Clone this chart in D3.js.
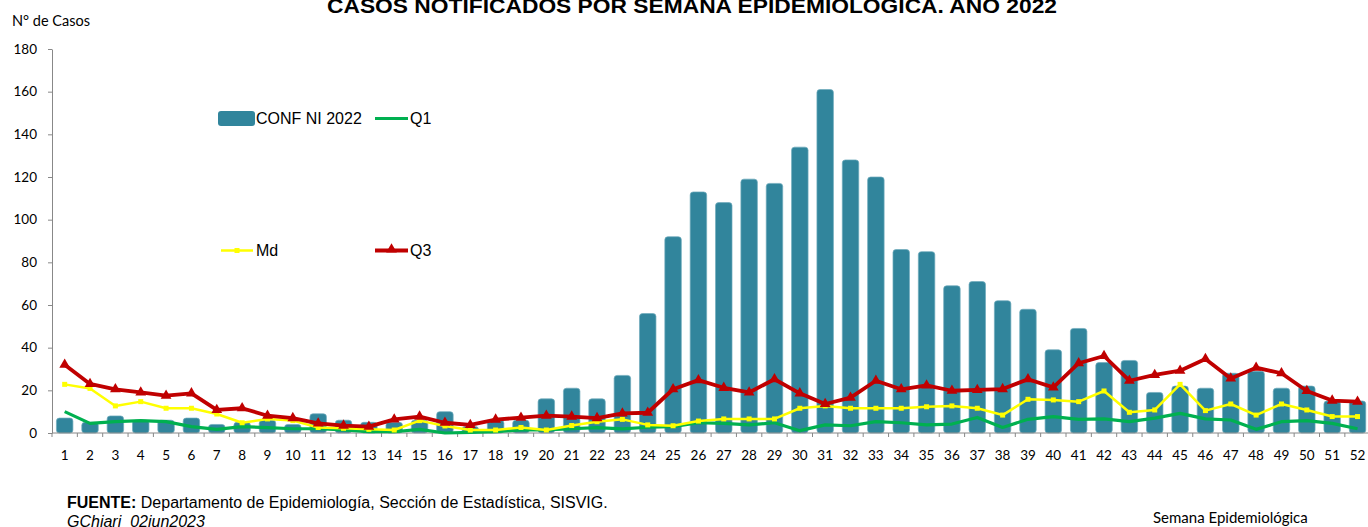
<!DOCTYPE html>
<html>
<head>
<meta charset="utf-8">
<script src="https://cdn.jsdelivr.net/npm/d3@7"></script>
<style>
  body { margin: 0; background: #fff; }
  svg { display: block; }
</style>
</head>
<body>
<div id="chart"></div>
<script>
// casos notificados por semana epidemiologica, 2022 vs canal endemico (Q1, Md, Q3)

var weeks = [1,2,3,4,5,6,7,8,9,10,11,12,13,14,15,16,17,18,19,20,21,22,23,24,25,26,
             27,28,29,30,31,32,33,34,35,36,37,38,39,40,41,42,43,44,45,46,47,48,49,50,51,52];

var conf2022 = [7,5,8,6,6,7,4,5,6,4,9,6,5,5,6,10,3,6,6,16,21,16,27,56,92,113,
                108,119,117,134,161,128,120,86,85,69,71,62,58,39,49,33,34,19,22,21,28,29,21,22,15,15];

var q1 = [10,4.5,5.3,5.8,5.3,3,1.7,3,2.5,2,2,1.4,0.6,0.6,1.7,0,0.3,0.6,1.4,1.4,2,2.5,1.9,2.7,3,4.8,
          4.5,3.8,4.8,1.1,3.8,3.4,5.3,4.8,3.8,4.2,7.3,2.6,6.4,7.7,6.4,6.6,5.3,7,9.2,6.6,6.1,1.7,5.3,5.8,4.5,2];

var md = [22.8,20.9,12.7,14.7,11.6,11.6,8.9,4.8,6.6,5.8,2.6,2.2,1.7,1.4,5.8,3.3,1.4,1.4,2.6,1.4,3.5,5.3,6.4,3.8,3.4,5.6,
          6.6,6.6,6.6,11.6,12.7,11.6,11.6,11.6,12.3,12.7,11.6,8.4,15.8,15.5,14.7,19.7,9.7,10.8,22.8,10.5,13.6,8.4,13.6,10.8,7.7,7.7];

var q3 = [32,23,20.5,19,17.5,18.6,10.8,11.6,8.1,7,4.5,3.5,3,6.4,7.7,4.8,3.8,6.3,7.2,8.1,7.7,7,9.2,9.5,20.5,24.8,
          21.2,19,25.2,18.6,13.6,16.6,24.5,20.5,22.3,19.8,20.2,20.6,25.2,21.4,32.7,36.1,24.5,27.2,29.2,34.7,25.6,30.6,28,19.7,15.2,14.7];

var yTicks = [0,20,40,60,80,100,120,140,160,180];

var W = 1368, H = 527;
var plot = { left: 52, top: 49, bottom: 433, band: 25.35 };

var svg = d3.select("#chart")
    .append("svg")
    .attr("width", W)
    .attr("height", H);

var x = d3.scaleBand()
    .domain(weeks)
    .range([plot.left, plot.left + weeks.length * plot.band])
    .paddingInner(0.35)
    .paddingOuter(0.175);

var y = d3.scaleLinear()
    .domain([0, 180])
    .range([plot.bottom, plot.top]);

var cx = function (w) { return x(w) + x.bandwidth() / 2; };

// title (partly cut at the top in the original)
svg.append("text")
    .attr("x", 692)
    .attr("y", 13)
    .attr("text-anchor", "middle")
    .attr("textLength", 730)
    .attr("lengthAdjust", "spacingAndGlyphs")
    .style("font-family", "'Liberation Sans', Arial, sans-serif")
    .style("font-weight", "bold")
    .style("font-size", "20px")
    .text("CASOS NOTIFICADOS POR SEMANA EPIDEMIOLÓGICA. AÑO 2022");

svg.append("text")
    .attr("x", 12)
    .attr("y", 26)
    .style("font-family", "Lato, 'Noto Sans', sans-serif")
    .style("font-size", "14.5px")
    .text("N° de Casos");

// bars
svg.append("g")
    .selectAll("rect")
    .data(conf2022)
    .enter()
    .append("rect")
    .attr("x", function (d, i) { return x(weeks[i]); })
    .attr("y", function (d) { return y(d); })
    .attr("width", x.bandwidth())
    .attr("height", function (d) { return plot.bottom - y(d); })
    .attr("rx", 3)
    .attr("fill", "#31859c")
    .attr("stroke", "#6fabbc")
    .attr("stroke-width", 0.7);

// y axis
var yAxis = svg.append("g")
    .attr("transform", "translate(" + plot.left + ",0)")
    .call(d3.axisLeft(y).tickValues(yTicks).tickSize(4).tickSizeOuter(0).tickPadding(11));
yAxis.select(".domain").attr("stroke", "#888");
yAxis.selectAll(".tick line").attr("stroke", "#888");
yAxis.selectAll("text")
    .style("font-family", "Lato, 'Noto Sans', sans-serif")
    .style("font-size", "13.5px")
    .attr("fill", "#000");

// x axis: ticks on band edges, labels centred
var xAxis = svg.append("g").attr("class", "xaxis");
xAxis.append("line")
    .attr("x1", plot.left)
    .attr("x2", plot.left + weeks.length * plot.band)
    .attr("y1", plot.bottom)
    .attr("y2", plot.bottom)
    .attr("stroke", "#888");
xAxis.selectAll(".xt")
    .data(weeks)
    .enter()
    .append("line")
    .attr("class", "xt")
    .attr("x1", function (w) { return x(w) - x.step() * x.paddingInner() / 2; })
    .attr("x2", function (w) { return x(w) - x.step() * x.paddingInner() / 2; })
    .attr("y1", plot.bottom)
    .attr("y2", plot.bottom + 4)
    .attr("stroke", "#888");
xAxis.selectAll(".xl")
    .data(weeks)
    .enter()
    .append("text")
    .attr("class", "xl")
    .attr("x", cx)
    .attr("y", 460)
    .attr("text-anchor", "middle")
    .style("font-family", "Lato, 'Noto Sans', sans-serif")
    .style("font-size", "13.5px")
    .text(function (w) { return w; });

var line = d3.line()
    .x(function (d, i) { return cx(weeks[i]); })
    .y(function (d) { return y(d); });

// Q1
svg.append("path")
    .datum(q1)
    .attr("d", line)
    .attr("fill", "none")
    .attr("stroke", "#00b050")
    .attr("stroke-width", 3.2)
    .attr("stroke-linejoin", "round");

// Md
svg.append("path")
    .datum(md)
    .attr("d", line)
    .attr("fill", "none")
    .attr("stroke", "#ffff00")
    .attr("stroke-width", 2.5)
    .attr("stroke-linejoin", "round");
svg.append("g")
    .selectAll("rect")
    .data(md)
    .enter()
    .append("rect")
    .attr("x", function (d, i) { return cx(weeks[i]) - 2.5; })
    .attr("y", function (d) { return y(d) - 2.5; })
    .attr("width", 5)
    .attr("height", 5)
    .attr("fill", "#ffff00");

// Q3
svg.append("path")
    .datum(q3)
    .attr("d", line)
    .attr("fill", "none")
    .attr("stroke", "#c00000")
    .attr("stroke-width", 3.8)
    .attr("stroke-linejoin", "round");
var tri = d3.symbol().type(d3.symbolTriangle).size(50);
svg.append("g")
    .selectAll("path")
    .data(q3)
    .enter()
    .append("path")
    .attr("d", tri)
    .attr("transform", function (d, i) { return "translate(" + cx(weeks[i]) + "," + y(d) + ")"; })
    .attr("fill", "#c00000");

// legend
var lg = svg.append("g")
    .style("font-family", "'Liberation Sans', Arial, sans-serif")
    .style("font-size", "16px");

lg.append("rect")
    .attr("x", 218).attr("y", 111).attr("width", 37).attr("height", 15).attr("rx", 3)
    .attr("fill", "#31859c");
lg.append("text").attr("x", 256).attr("y", 124).text("CONF NI 2022");

lg.append("line")
    .attr("x1", 375).attr("x2", 408).attr("y1", 118.5).attr("y2", 118.5)
    .attr("stroke", "#00b050").attr("stroke-width", 3.2);
lg.append("text").attr("x", 410).attr("y", 124).text("Q1");

lg.append("line")
    .attr("x1", 221).attr("x2", 253).attr("y1", 250.5).attr("y2", 250.5)
    .attr("stroke", "#ffff00").attr("stroke-width", 2.5);
lg.append("rect")
    .attr("x", 234.5).attr("y", 248).attr("width", 5).attr("height", 5)
    .attr("fill", "#ffff00");
lg.append("text").attr("x", 256).attr("y", 256).text("Md");

lg.append("line")
    .attr("x1", 375).attr("x2", 408).attr("y1", 250.5).attr("y2", 250.5)
    .attr("stroke", "#c00000").attr("stroke-width", 3.8);
lg.append("path")
    .attr("d", tri)
    .attr("transform", "translate(391.5,249.5)")
    .attr("fill", "#c00000");
lg.append("text").attr("x", 410).attr("y", 256).text("Q3");

// footer notes
var src = svg.append("text")
    .attr("x", 67)
    .attr("y", 508)
    .style("font-family", "'Liberation Sans', Arial, sans-serif")
    .style("font-size", "16px");
src.append("tspan").style("font-weight", "bold").text("FUENTE:");
src.append("tspan").text(" Departamento de Epidemiología, Sección de Estadística, SISVIG.");

svg.append("text")
    .attr("x", 67)
    .attr("y", 527)
    .style("font-family", "'Liberation Sans', Arial, sans-serif")
    .style("font-size", "16px")
    .style("font-style", "italic")
    .text("GChiari_02jun2023");

svg.append("text")
    .attr("x", 1153)
    .attr("y", 523)
    .style("font-family", "Lato, 'Noto Sans', sans-serif")
    .style("font-size", "15px")
    .text("Semana Epidemiológica");
</script>
</body>
</html>
